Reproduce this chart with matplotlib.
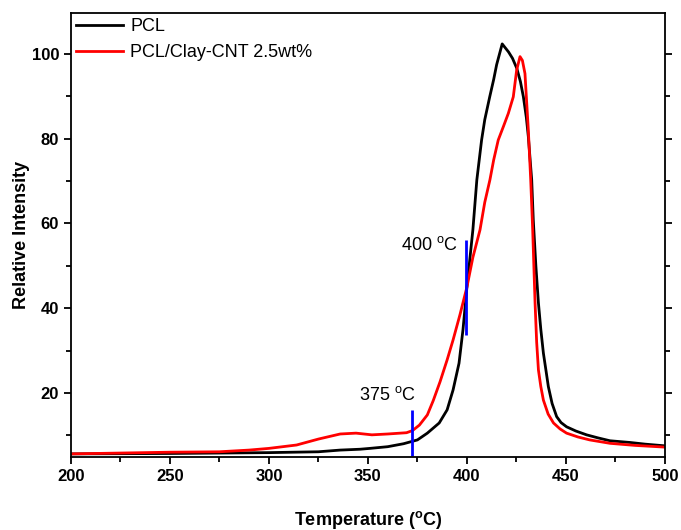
import numpy as np
import matplotlib.pyplot as plt
from matplotlib.ticker import MultipleLocator

plt.rcParams['font.family'] = 'Liberation Sans'
plt.rcParams['mathtext.fontset'] = 'custom'
plt.rcParams['mathtext.rm'] = 'Liberation Sans'
plt.rcParams['mathtext.bf'] = 'Liberation Sans:bold'

# values
t_pcl = [200, 250, 275, 300, 325, 336, 346, 351, 360, 368, 375, 380, 386, 390, 393, 396, 398, 400,
         403, 405, 407.4, 409, 411.5, 413.5, 415, 417.8, 421, 423, 425.2, 427, 428.5, 430, 431,
         432.7, 433.5, 434.8, 436.1, 437.3, 438.6, 440, 441.1, 443, 445.3, 447.5, 450.3, 455,
         460.4, 466, 472.2, 482.3, 490, 500]
i_pcl = [5.6, 5.7, 5.8, 5.9, 6.1, 6.5, 6.7, 6.9, 7.3, 8.0, 8.9, 10.5, 12.9, 16, 20.7, 27, 34.9, 45,
         58.5, 70.3, 79.7, 84.5, 89.9, 94, 97.5, 102.4, 100.5, 99, 96.6, 93.5, 89.9, 85, 80.5,
         70.3, 60.8, 50, 41.2, 35, 29.4, 25, 21.5, 17.5, 14.4, 13, 12.0, 11,
         10.1, 9.4, 8.7, 8.3, 7.9, 7.5]

t_clay = [200, 225, 250, 275, 290, 300, 314, 325, 336, 344, 352, 360, 369.5, 372.5, 376, 380, 383,
          386.4, 390, 393, 396.5, 400, 403, 406.6, 409, 411.6, 413.5, 415.8, 418.5, 420.9, 423.4,
          425.1, 426.8, 428, 429.3, 431, 432.2, 433.2, 434.4, 435.2, 436.1, 437.3, 438.6, 441,
          443.7, 447, 450.3, 456, 462, 472.2, 485, 500]
i_clay = [5.6, 5.8, 6.0, 6.1, 6.5, 6.9, 7.7, 9.1, 10.3, 10.5, 10.1, 10.3, 10.6, 11.1, 12.4, 14.8, 18.2,
          22.6, 27.8, 32.5, 38.5, 45, 52, 58.5, 65, 70.3, 75, 79.7, 83, 86, 89.9,
          96.2, 99.4, 98.5, 95.4, 82, 70.3, 58.5, 41.2, 32, 25.4, 21.5, 18.3, 15,
          12.9, 11.5, 10.5, 9.6, 8.9, 8.1, 7.6, 7.2]

marks = [372.5, 399.5]
mark_lo = [5.0, 33.7]
mark_hi = [16.0, 56.1]

fig = plt.figure(figsize=(6.81, 5.30), dpi=100)
ax = fig.add_axes([0.104, 0.138, 0.8725, 0.8375])

ax.plot(t_pcl, i_pcl, color='black', lw=2, label='PCL')
ax.plot(t_clay, i_clay, color='red', lw=2, label='PCL/Clay-CNT 2.5wt%')
ax.vlines(marks, mark_lo, mark_hi, color='blue', lw=2)
ax.text(381, 55, r'400 $^{\mathrm{o}}$C', fontsize=13, ha='center', va='center')
ax.text(360, 19.6, r'375 $^{\mathrm{o}}$C', fontsize=13, ha='center', va='center')

ax.set_xlim(200, 500)
ax.set_ylim(4.9, 109.7)
ax.xaxis.set_major_locator(MultipleLocator(50))
ax.xaxis.set_minor_locator(MultipleLocator(25))
ax.yaxis.set_minor_locator(MultipleLocator(10))
ax.set_yticks([20, 40, 60, 80, 100])
ax.tick_params(which='major', direction='out', length=5, width=1.3, labelsize=12)
ax.tick_params(which='minor', direction='out', length=3.5, width=1.3)
ax.tick_params(which='both', right=True, labelright=False)
for lab in ax.get_xticklabels() + ax.get_yticklabels():
    lab.set_fontweight('bold')
for s in ax.spines.values():
    s.set_linewidth(1.3)

ax.set_xlabel(r'Temperature ($^{\mathbf{o}}$C)', fontsize=13, fontweight='bold', labelpad=18)
ax.set_ylabel('Relative Intensity', fontsize=13, fontweight='bold', labelpad=1)

ax.legend(loc='upper left', frameon=False, fontsize=13, handlelength=2.6, handletextpad=0.4,
          borderaxespad=0.1, borderpad=0.2, labelspacing=0.5)

fig.savefig('out.png', dpi=100)
